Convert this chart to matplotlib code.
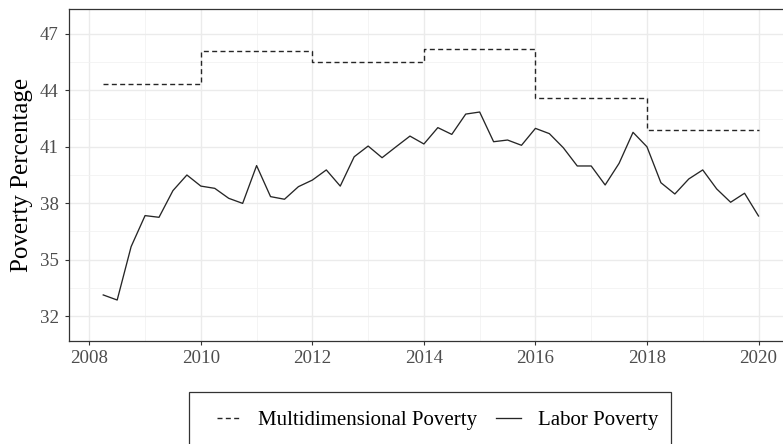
import matplotlib
matplotlib.use("Agg")
import matplotlib.pyplot as plt
from matplotlib.patches import Rectangle
import numpy as np

# Labor poverty, quarterly
labor_x = [2008.25, 2008.5, 2008.75, 2009.0, 2009.25, 2009.5, 2009.75, 2010.0,
           2010.25, 2010.5, 2010.75, 2011.0, 2011.25, 2011.5, 2011.75, 2012.0,
           2012.25, 2012.5, 2012.75, 2013.0, 2013.25, 2013.5, 2013.75, 2014.0,
           2014.25, 2014.5, 2014.75, 2015.0, 2015.25, 2015.5, 2015.75, 2016.0,
           2016.25, 2016.5, 2016.75, 2017.0, 2017.25, 2017.5, 2017.75, 2018.0,
           2018.25, 2018.5, 2018.75, 2019.0, 2019.25, 2019.5, 2019.75, 2020.0]
labor_y = [33.12, 32.85, 35.69, 37.34, 37.25, 38.67, 39.50, 38.91,
           38.79, 38.26, 37.99, 40.00, 38.35, 38.21, 38.88, 39.23,
           39.77, 38.91, 40.47, 41.04, 40.42, 41.00, 41.57, 41.15,
           42.02, 41.66, 42.74, 42.85, 41.27, 41.36, 41.08, 41.98,
           41.70, 40.95, 39.98, 39.98, 38.97, 40.12, 41.77, 41.00,
           39.09, 38.49, 39.29, 39.77, 38.76, 38.05, 38.53, 37.32]

# Multidimensional poverty, biennial steps
multi_x = [2008.25, 2010, 2012, 2014, 2016, 2018, 2020]
multi_y = [44.34, 46.10, 45.51, 46.19, 43.58, 41.89, 41.89]

xticks = [2008, 2010, 2012, 2014, 2016, 2018, 2020]
yticks = [32, 35, 38, 41, 44, 47]
series_labels = ["Multidimensional Poverty", "Labor Poverty"]
ylabel = "Poverty Percentage"

W, H = 783, 444
fig = plt.figure(figsize=(W / 100, H / 100), dpi=100)

px_per_year = (758.5 - 89.3) / 12
x0 = 2008 - (89.3 - 69.3) / px_per_year
x1 = 2020.59
ax_w_px = (x1 - x0) * px_per_year
left, top, bottom = 69.3, 9.0, 341.0
ax = fig.add_axes([left / W, 1 - bottom / H, ax_w_px / W, (bottom - top) / H])

px_per_unit = (316 - 34) / 15
ax.set_xlim(x0, x1)
ax.set_ylim(32 - (bottom - 316) / px_per_unit, 47 + (34 - top) / px_per_unit)

serif = "Liberation Serif"
line_col = "#262626"
l1, = ax.plot(multi_x, multi_y, drawstyle="steps-post", color=line_col, lw=1.0,
              linestyle=(0, (3.6, 2.4)), label=series_labels[0])
l2, = ax.plot(labor_x, labor_y, color=line_col, lw=0.95, label=series_labels[1])

ax.set_xticks(xticks)
ax.set_yticks(yticks)
ax.set_xticks(np.arange(2009, 2021, 2), minor=True)
ax.set_yticks(np.arange(33.5, 48, 3), minor=True)
ax.grid(True, which="major", color="#ebebeb", lw=1.0)
ax.grid(True, which="minor", color="#f2f2f2", lw=0.6)
ax.set_axisbelow(True)
ax.tick_params(which="minor", length=0)
ax.tick_params(which="major", length=3.2, width=0.8, color="#333333",
               labelcolor="#4d4d4d", labelsize=13.6)
ax.tick_params(axis="y", pad=4.5)
ax.tick_params(axis="x", pad=3.5)
for lab in ax.get_xticklabels() + ax.get_yticklabels():
    lab.set_fontfamily(serif)
for s in ax.spines.values():
    s.set_color("#333333")
    s.set_linewidth(0.9)

ax.set_ylabel(ylabel, fontsize=18, family=serif, color="black")
ax.yaxis.set_label_coords((33 - left) / ax_w_px, 0.5)

# legend
fig.patches.append(Rectangle((189.3 / W, -0.05), (670.7 - 189.3) / W,
                             0.05 + 1 - 392 / H, transform=fig.transFigure,
                             fill=False, edgecolor="#333333", lw=0.9))
fig.legend(handles=[l1, l2], loc="center left",
           bbox_to_anchor=(216.7 / W, 1 - 420 / H), ncol=2, frameon=False,
           prop={"family": serif, "size": 15}, handlelength=1.2,
           handletextpad=0.8, columnspacing=0.9, borderpad=0, borderaxespad=0)

fig.savefig("out.png", dpi=100)
